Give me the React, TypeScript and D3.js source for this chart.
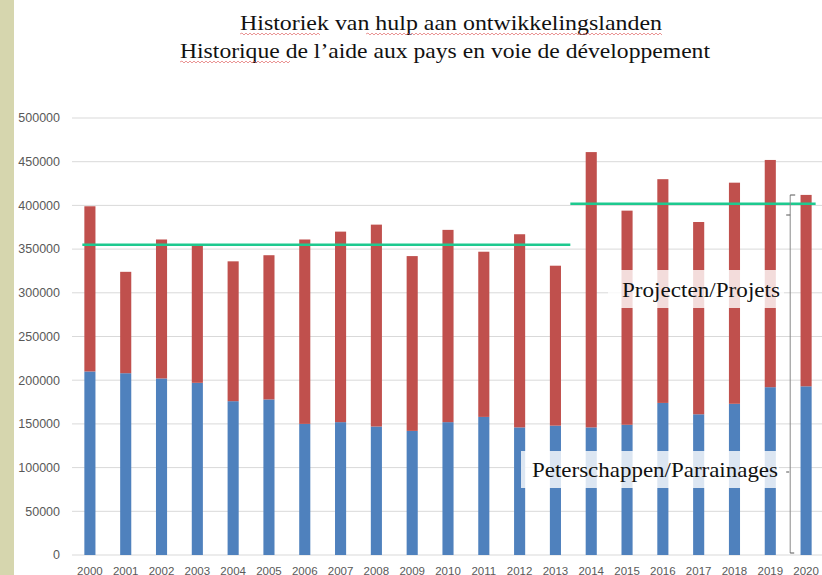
import React from "react";
import * as d3 from "d3";

const years = ["2000","2001","2002","2003","2004","2005","2006","2007","2008","2009","2010","2011","2012","2013","2014","2015","2016","2017","2018","2019","2020"];
const parrainages = [210000,208000,202000,197000,176000,178000,150000,152000,147000,142000,152000,158000,146000,148000,146000,149000,174000,161000,173000,192000,193000];
const projets = [189000,116000,159000,158000,160000,165000,211000,218000,231000,200000,220000,189000,221000,183000,315000,245000,256000,220000,253000,260000,219000];
const yTicks = [0,50000,100000,150000,200000,250000,300000,350000,400000,450000,500000];
const meanPeriods = [
  { from: "2000", to: "2013", value: 355000 },
  { from: "2014", to: "2020", value: 402000 },
];
const titleLines = ["Historiek van hulp aan ontwikkelingslanden", "Historique de l\u2019aide aux pays en voie de développement"];
const labelProjets = "Projecten/Projets";
const labelParrainages = "Peterschappen/Parrainages";

const W = 822, H = 575;
const RED = "#c0504d", BLUE = "#4f81bd", GREEN = "#1ec98f";

function wavy(x0: number, x1: number, y: number) {
  let d = `M${x0},${y}`;
  let up = true;
  for (let x = x0 + 2; x <= x1; x += 2) {
    d += ` L${x},${y + (up ? -1 : 1)}`;
    up = !up;
  }
  return d;
}

export default function App() {
  const x = d3.scaleBand<string>().domain(years).range([72, 824]).paddingInner(0.69).paddingOuter(0.345);
  const y = d3.scaleLinear().domain([0, 500000]).range([555, 118]);
  const rows = years.map((yr, i) => ({ year: yr, parrainages: parrainages[i], projets: projets[i] }));
  const stack = d3.stack<any>().keys(["parrainages", "projets"])(rows);
  const colors = [BLUE, RED];
  const bw = x.bandwidth();
  const step = x.step();

  const meanSegs = meanPeriods.map((p, i) => {
    const x0 = i === 0 ? (x(p.from) as number) - 2 : (x(p.from) as number) - (step - bw) / 2 - 3;
    const x1 = i === 0 ? (x(p.to) as number) + bw + (step - bw) / 2 - 3 : (x(p.to) as number) + bw + 4;
    return { x0, x1, y: y(p.value) };
  });

  const bx = (x("2020") as number) - (step - bw) / 2 + 2;

  return (
    <svg width={W} height={H} style={{ position: "absolute", left: 0, top: 0, background: "#fff" }}>
      <rect x={0} y={0} width={14} height={H} fill="#d6d6ae" />
      {/* title */}
      <g fontFamily="'Liberation Serif', 'Times New Roman', serif" fill="#111" fontSize={22}>
        <text x={240} y={30} textLength={422} lengthAdjust="spacingAndGlyphs">{titleLines[0]}</text>
        <text x={180} y={58} textLength={530} lengthAdjust="spacingAndGlyphs">{titleLines[1]}</text>
      </g>
      <g stroke="#e05a5a" strokeWidth={0.8} fill="none" opacity={0.8}>
        <path d={wavy(240, 321, 34)} />
        <path d={wavy(366, 662, 34)} />
        <path d={wavy(180, 290, 62)} />
      </g>
      {/* grid */}
      <g>
        {yTicks.map(t => (
          <g key={t}>
            <line x1={72} x2={W} y1={y(t)} y2={y(t)} stroke="#d9d9d9" strokeWidth={1} />
            <text x={60} y={y(t)} dy="0.35em" textAnchor="end" fontFamily="'Liberation Sans', Arial, sans-serif" fontSize={12.5} fill="#595959">{t}</text>
          </g>
        ))}
      </g>
      {/* bars */}
      {stack.map((s, si) => (
        <g key={si} fill={colors[si]}>
          {s.map((d: any, i: number) => (
            <rect key={i} x={x(years[i])} width={bw} y={y(d[1])} height={y(d[0]) - y(d[1])} />
          ))}
        </g>
      ))}
      {/* x labels */}
      {years.map(yr => (
        <text key={yr} x={(x(yr) as number) + bw / 2} y={575} textAnchor="middle" fontFamily="'Liberation Sans', Arial, sans-serif" fontSize={11.5} fill="#595959">{yr}</text>
      ))}
      {/* mean lines */}
      {meanSegs.map((m, i) => (
        <line key={i} x1={m.x0} x2={m.x1} y1={m.y} y2={m.y} stroke={GREEN} strokeWidth={2.5} />
      ))}
      {/* bracket */}
      <g stroke="#555" strokeWidth={1} fill="none">
        <line x1={bx} x2={bx} y1={195} y2={553} stroke="#888" />
        <line x1={bx} x2={bx + 5} y1={195} y2={195} />
        <line x1={bx - 4} x2={bx} y1={215} y2={215} />
        <line x1={bx - 4} x2={bx - 1} y1={472} y2={472} />
        <line x1={bx} x2={bx + 4} y1={553} y2={553} />
      </g>
      {/* labels */}
      <rect x={608} y={270} width={176} height={38} fill="#fff" opacity={0.8} />
      <text x={622} y={297} textLength={158} lengthAdjust="spacingAndGlyphs" fontFamily="'Liberation Serif', 'Times New Roman', serif" fontSize={22} fill="#111">{labelProjets}</text>
      <rect x={521} y={451} width={258} height={37} fill="#fff" opacity={0.8} />
      <text x={532} y={477} textLength={246} lengthAdjust="spacingAndGlyphs" fontFamily="'Liberation Serif', 'Times New Roman', serif" fontSize={22} fill="#111">{labelParrainages}</text>
    </svg>
  );
}
